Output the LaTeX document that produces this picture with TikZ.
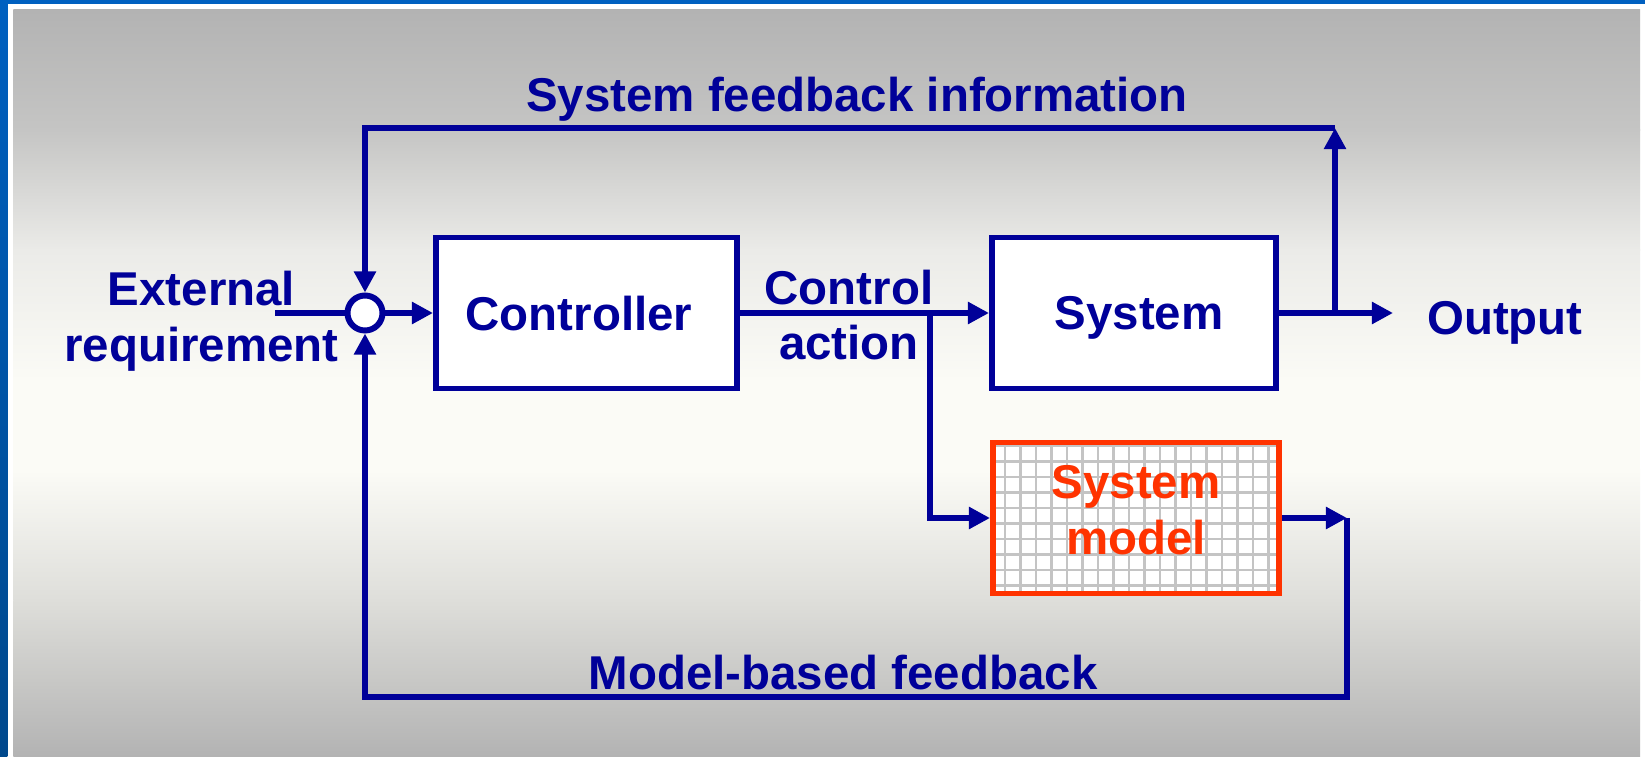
\documentclass[tikz,border=0pt]{standalone}
\usepackage{fontspec}
\setmainfont{Liberation Sans}
\usetikzlibrary{arrows.meta, positioning}
\definecolor{diagblue}{RGB}{0,0,153}
\definecolor{modelred}{RGB}{255,51,0}
\definecolor{frameblue}{RGB}{0,96,192}
\definecolor{framedark}{RGB}{0,72,140}
\definecolor{gridgray}{RGB}{196,196,196}
\definecolor{bgA}{RGB}{179,179,179}
\definecolor{bgB}{RGB}{197,197,196}
\definecolor{bgC}{RGB}{235,235,232}
\definecolor{bgD}{RGB}{251,251,246}
\definecolor{bgE}{RGB}{222,222,218}

\begin{document}
\begin{tikzpicture}
    % Slide background: blue frame and shaded panel
    \useasboundingbox (0,0) rectangle (16.45,7.56);
    \fill[white] (0,0) rectangle (16.45,7.56);
    \shade[top color=frameblue, bottom color=framedark] (0,0) rectangle (0.075,7.56);
    \fill[frameblue] (0,7.52) rectangle (16.45,7.56);
    \shade[top color=bgA, bottom color=bgB] (0.135,6.25) rectangle (16.40,7.46);
    \shade[top color=bgB, bottom color=bgC] (0.135,5.05) rectangle (16.40,6.26);
    \shade[top color=bgC, bottom color=bgD] (0.135,3.75) rectangle (16.40,5.06);
    \fill[bgD] (0.135,2.85) rectangle (16.40,3.76);
    \shade[top color=bgD, bottom color=bgE] (0.135,1.55) rectangle (16.40,2.86);
    \shade[top color=bgE, bottom color=bgA] (0.135,0) rectangle (16.40,1.56);

    % Default looks for nodes and connectors
    \tikzstyle{every node}=[font=\fontsize{13.5}{15.9}\selectfont\bfseries, text=diagblue];
    \tikzstyle{block}=[draw=diagblue, line width=1.7pt, fill=white, minimum height=1.51cm, inner sep=0pt, text depth=0pt];
    \tikzstyle{wire}=[draw=diagblue, line width=1.7pt];
    \tikzstyle{flow}=[wire, -{Triangle[length=6pt, width=6pt]}];

    % Define and draw the blocks
    \node [circle, draw=diagblue, line width=1.7pt, fill=white, minimum size=0.35cm, inner sep=0pt] (sum) at (3.65,4.43) {};
    \node [block, minimum width=3.01cm] (ctrl) at (5.865,4.43) {Controller\hspace*{0.15cm}};
    \node [block, minimum width=2.84cm] (sys) at (11.34,4.43) {\hspace*{0.1cm}System};
    \node [block, draw=modelred, text=modelred, minimum width=2.86cm, align=center, text depth=0.16cm,
        path picture={\draw [gridgray, line width=0.75pt]
            (path picture bounding box.south west) grid [step=0.155] (path picture bounding box.north east);}]
        (model) at (11.36,2.38) {System\\model};

    % Labels
    \node [anchor=base] (fbinfo) at (8.57,6.44) {System feedback information};
    \node [anchor=base] (mbfb) at (8.43,0.67) {Model-based feedback};
    \node [align=center] (req) at (2.015,4.35) {External\\requirement};
    \node [align=center] (act) at (8.49,4.41) {Control\\action};
    \node [anchor=base] (output) at (15.05,4.21) {Output};

    % Turning points of the connectors
    \coordinate (reqend) at (2.75,4.43);
    \coordinate (branch) at (9.30,4.43);
    \coordinate (outsplit) at (13.35,4.43);
    \coordinate (outend) at (13.93,4.43);
    \coordinate (topturn) at (13.35,6.28);
    \coordinate (modelend) at (13.47,2.38);
    \coordinate (botturn) at (13.47,0.59);

    % Draw connectors
    \draw [wire] (reqend) -- (sum);
    \draw [flow] (sum) -- (ctrl);
    \draw [flow] (ctrl) -- (sys);
    \draw [flow] (branch) |- (model);
    \draw [flow] (sys) -- (outend);
    \draw [flow] (outsplit) -- (topturn);
    \draw [flow] (topturn) -| (sum);
    \draw [flow] (model) -- (modelend);
    \draw [flow] (modelend) -- (botturn) -| (sum);
\end{tikzpicture}
\end{document}
